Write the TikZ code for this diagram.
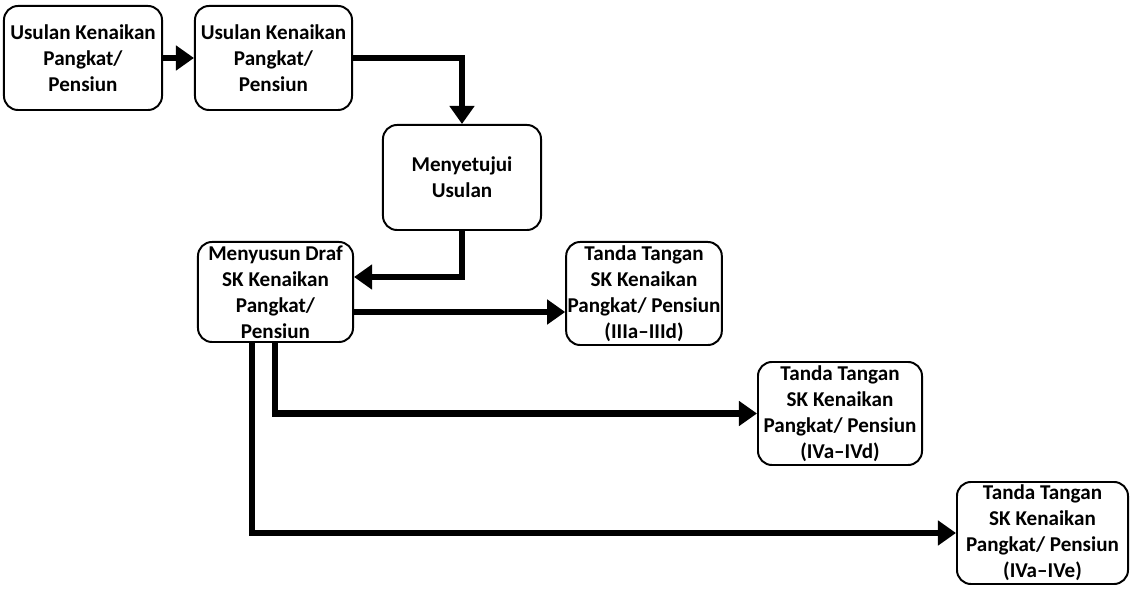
\documentclass[tikz,border=0pt]{standalone}
\usepackage{fontspec}
\setmainfont{Carlito}
\usetikzlibrary{arrows.meta}
\tikzset{
  box/.style={draw,line width=1.4pt,rounded corners=0.35cm,align=center,inner sep=1pt,
    font=\bfseries\fontsize{15}{18.5}\selectfont},
  flow/.style={line width=4.5pt,-{Triangle[length=0.45cm,width=0.6cm]}}
}
\begin{document}
\begin{tikzpicture}[x=0.025cm,y=-0.025cm]
\useasboundingbox (0,0) rectangle (1133,589);
\node[box,minimum width=3.95cm,minimum height=2.6cm] (b1) at (83,58) {Usulan Kenaikan\\Pangkat/\\Pensiun};
\node[box,minimum width=3.925cm,minimum height=2.6cm] (b2) at (273.5,58) {Usulan Kenaikan\\Pangkat/\\Pensiun};
\node[box,minimum width=3.95cm,minimum height=2.625cm] (b3) at (462,177.5) {Menyetujui\\Usulan};
\node[box,minimum width=3.875cm,minimum height=2.5cm] (b4) at (275.5,292) {Menyusun Draf\\SK Kenaikan\\Pangkat/\\Pensiun};
\node[box,minimum width=3.6cm,minimum height=2.575cm] (b5) at (644,293.5) {Tanda Tangan\\SK Kenaikan\\Pangkat/ Pensiun\\(IIIa–IIId)};
\node[box,minimum width=4.1cm,minimum height=2.575cm] (b6) at (840,413.5) {Tanda Tangan\\SK Kenaikan\\Pangkat/ Pensiun\\(IVa–IVd)};
\node[box,minimum width=4.275cm,minimum height=2.55cm] (b7) at (1042.5,533) {Tanda Tangan\\SK Kenaikan\\Pangkat/ Pensiun\\(IVa–IVe)};
% junction heights and drop lines
\coordinate (j3) at (0,277);
\coordinate (j5) at (0,312);
\coordinate (l6) at (275,0);
\coordinate (l7) at (252,0);
\draw[flow] (b1) -- (b2);
\draw[flow] (b2.east) -| (b3.north);
\draw[flow] (b3.south) |- (b4.east|-j3);
\draw[flow] (b4.east|-j5) -- (b5.west|-j5);
\draw[flow] (b4.south-|l6) |- (b6.west);
\draw[flow] (b4.south-|l7) |- (b7.west);
\end{tikzpicture}
\end{document}
